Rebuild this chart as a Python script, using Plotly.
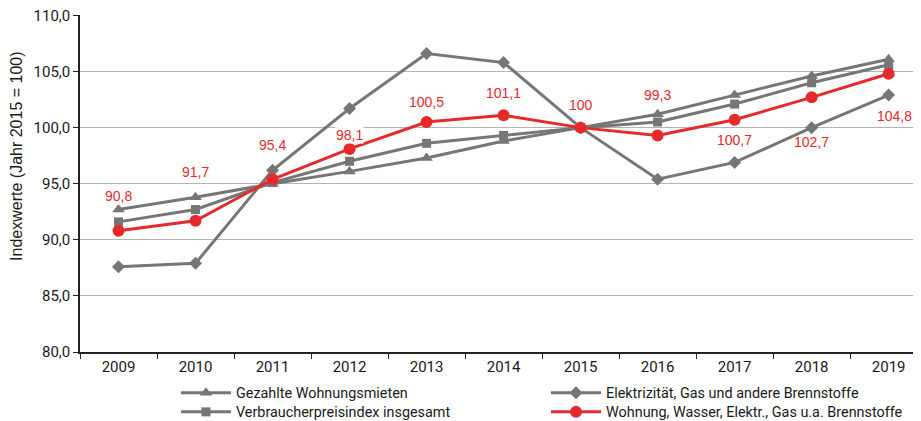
import plotly.graph_objects as go

years = ["2009", "2010", "2011", "2012", "2013", "2014", "2015", "2016", "2017", "2018", "2019"]
mieten = [92.7, 93.8, 95.0, 96.1, 97.3, 98.8, 100.0, 101.2, 102.9, 104.6, 106.1]
elektr = [87.6, 87.9, 96.2, 101.7, 106.6, 105.8, 100.0, 95.4, 96.9, 100.0, 102.9]
vpi = [91.6, 92.7, 95.1, 97.0, 98.6, 99.3, 100.0, 100.5, 102.1, 104.0, 105.6]
wohnung = [90.8, 91.7, 95.4, 98.1, 100.5, 101.1, 100.0, 99.3, 100.7, 102.7, 104.8]
wohnung_labels = ["90,8", "91,7", "95,4", "98,1", "100,5", "101,1", "100", "99,3", "100,7", "102,7", "104,8"]
ytick_vals = [80, 85, 90, 95, 100, 105, 110]
ytick_text = ["80,0", "85,0", "90,0", "95,0", "100,0", "105,0", "110,0"]
y_title = "Indexwerte (Jahr 2015 = 100)"

# label placement (pixel offsets) and background use
label_yshift = [35, 49, 34, 14, 20, 22, 23, 40, -20, -45, -42]
label_xshift = [0, 0, 0, 0, 0, 0, 0, 0, 0, 0, 6]
label_bg = ["white"] * 9 + ["rgba(0,0,0,0)", "white"]

GRAY = "#767676"
RED = "#e62a2b"
FONT = "Roboto"
LFONT = "Liberation Sans"

fig = go.Figure()
fig.add_trace(go.Scatter(x=years, y=mieten, name="Gezahlte Wohnungsmieten", mode="lines+markers", legend="legend",
                         line=dict(color=GRAY, width=3), marker=dict(symbol="triangle-up", size=11, color=GRAY)))
fig.add_trace(go.Scatter(x=years, y=elektr, name="Elektrizität, Gas und andere Brennstoffe", mode="lines+markers",
                         legend="legend2",
                         line=dict(color=GRAY, width=3), marker=dict(symbol="diamond", size=10, color=GRAY)))
fig.add_trace(go.Scatter(x=years, y=vpi, name="Verbraucherpreisindex insgesamt", mode="lines+markers", legend="legend3",
                         line=dict(color=GRAY, width=3), marker=dict(symbol="square", size=9, color=GRAY)))
fig.add_trace(go.Scatter(x=years, y=wohnung, name="Wohnung, Wasser, Elektr., Gas u.a. Brennstoffe", mode="lines+markers",
                         legend="legend4",
                         line=dict(color=RED, width=3), marker=dict(symbol="circle", size=12, color=RED)))

for i, (v, t) in enumerate(zip(wohnung, wohnung_labels)):
    fig.add_annotation(x=i, y=v, xref="x", yref="y", text=t, showarrow=False,
                       yshift=label_yshift[i], xshift=label_xshift[i],
                       font=dict(family=LFONT, size=14, color=RED), bgcolor=label_bg[i], borderpad=0)

fig.add_annotation(x=-0.0749, y=0.579, xref="paper", yref="paper", text=y_title, textangle=-90,
                   xanchor="center", yanchor="middle",
                   showarrow=False, font=dict(family=LFONT, size=16, color="#1a1a1a"))

legend_style = dict(orientation="v", yanchor="top", xanchor="left", tracegroupgap=0,
                    font=dict(family=FONT, size=14.4, color="#1a1a1a"), itemwidth=50, bgcolor="rgba(0,0,0,0)")

# page body has an 8px margin: figure sized to fill the remaining window
fig.update_layout(
    width=913, height=413,
    margin=dict(l=72, r=0, t=7, b=69, autoexpand=False),
    plot_bgcolor="white", paper_bgcolor="white",
    font=dict(family=FONT, size=15, color="#1a1a1a"),
    showlegend=True,
    legend=dict(x=0.1141, y=-0.0742, **legend_style),
    legend2=dict(x=0.5541, y=-0.0742, **legend_style),
    legend3=dict(x=0.1141, y=-0.1306, **legend_style),
    legend4=dict(x=0.5541, y=-0.1306, **legend_style),
)
fig.update_xaxes(type="category", range=[-0.5, 10.42], showline=True, linecolor="#222222", linewidth=1.5,
                 ticks="outside", tickson="boundaries", ticklen=5, tickcolor="#222222", showgrid=False,
                 tickfont=dict(family=FONT, size=15), automargin=False)
fig.update_yaxes(range=[80, 110.04], tickvals=ytick_vals, ticktext=ytick_text, showline=True, linecolor="#222222",
                 linewidth=1.5, ticks="outside", ticklen=5, tickcolor="#222222", showgrid=True,
                 gridcolor="#b4b4b4", gridwidth=1, zeroline=False, tickfont=dict(family=FONT, size=15),
                 automargin=False, ticklabeloverflow="allow")

fig.write_html("out.html")
